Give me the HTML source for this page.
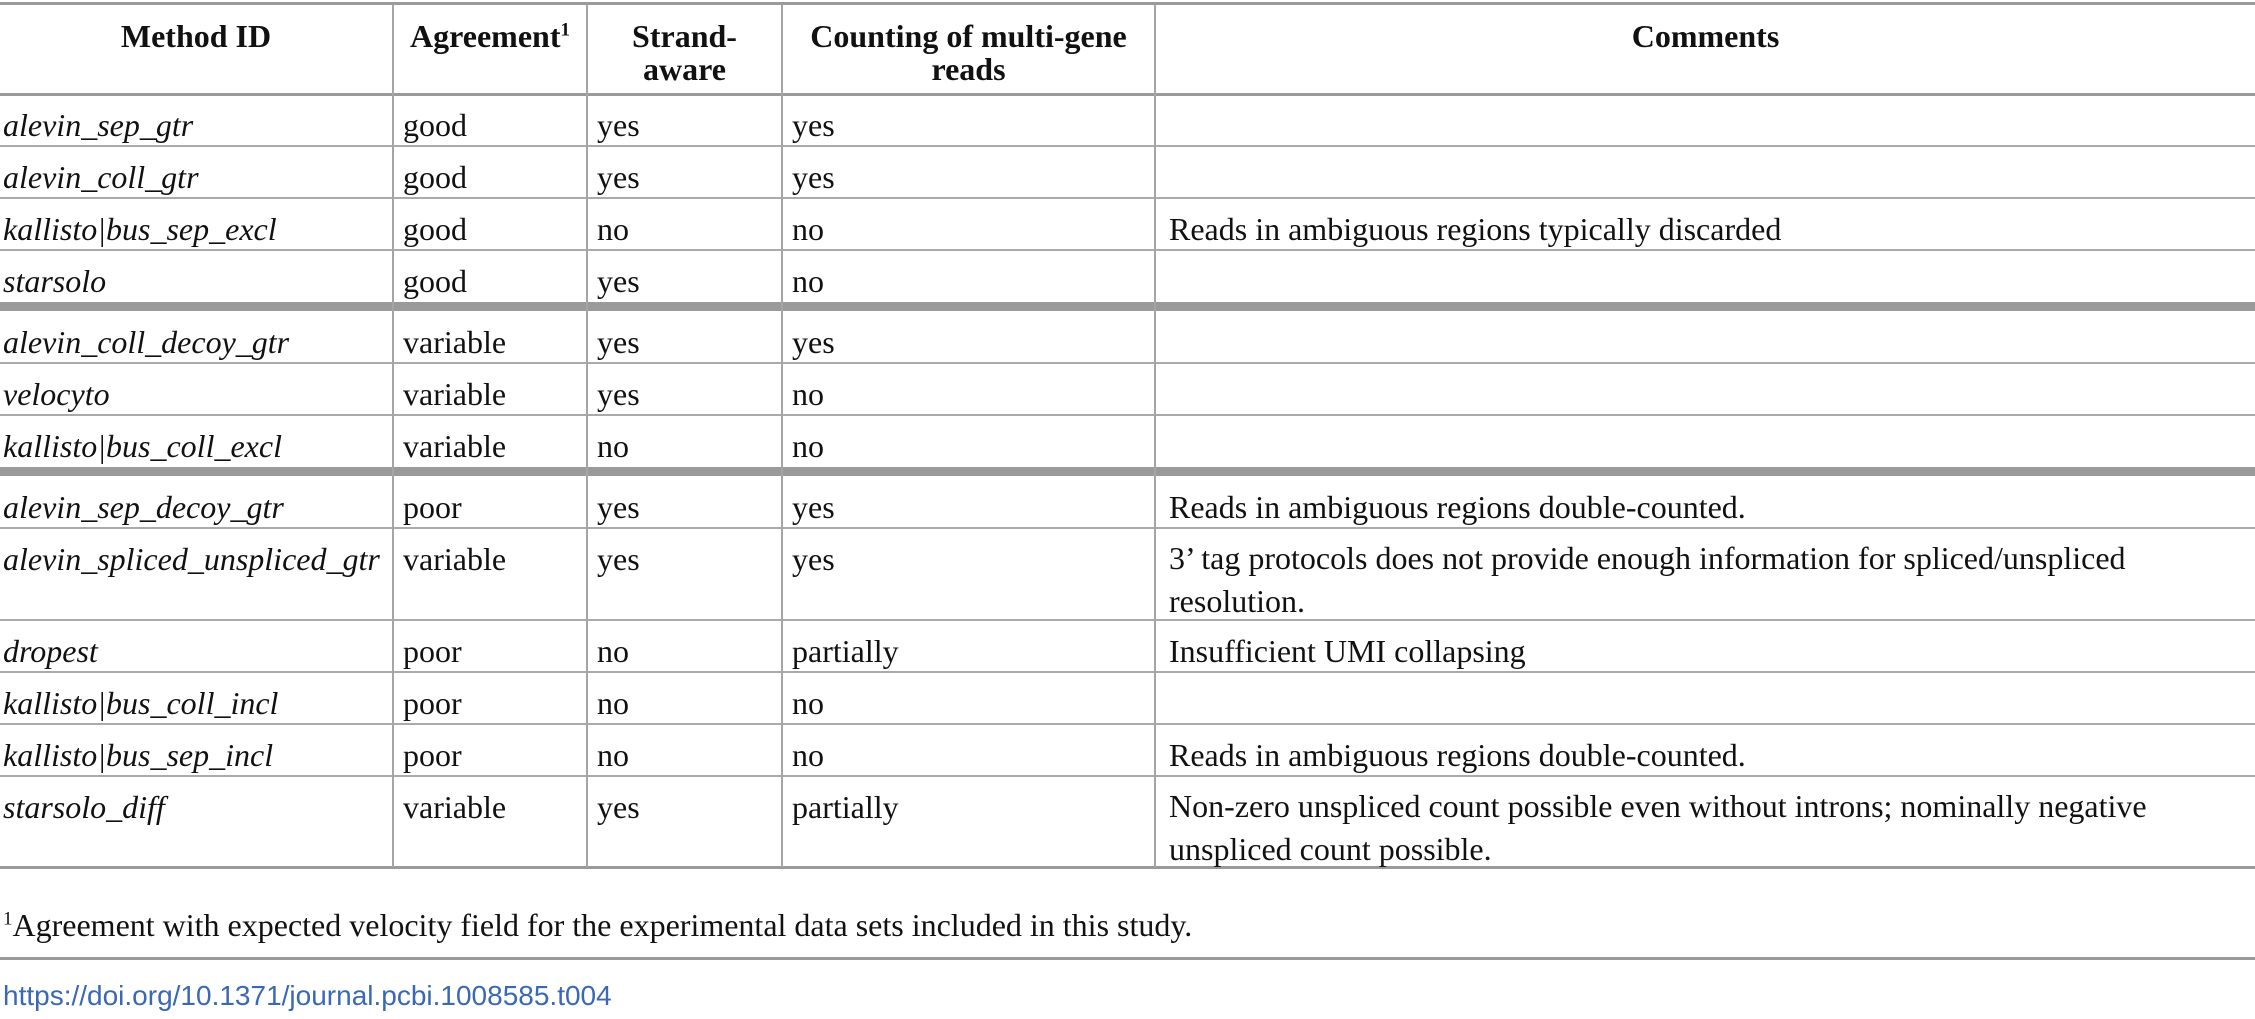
<!DOCTYPE html>
<html><head><meta charset="utf-8"><style>
body{margin:0;width:2255px;height:1019px;background:#fff;position:relative;overflow:hidden;font-family:"Liberation Serif",serif;font-size:32px;color:#111}
.h{position:absolute;left:0;width:2255px;background:#9a9a9a}
.v{position:absolute;width:2px;background:#a5a5a5}
.t{position:absolute;white-space:nowrap;line-height:40px}
.b{font-weight:bold;text-align:center;line-height:33px}
i{font-style:italic}
.d{line-height:43px}
</style></head><body>
<div class="h" style="top:2px;height:3px"></div>
<div class="h" style="top:93px;height:3px"></div>
<div class="h" style="top:145px;height:2px;background:#aaa"></div>
<div class="h" style="top:197px;height:2px;background:#aaa"></div>
<div class="h" style="top:249px;height:2px;background:#aaa"></div>
<div class="h" style="top:302px;height:9px"></div>
<div class="h" style="top:362px;height:2px;background:#aaa"></div>
<div class="h" style="top:414px;height:2px;background:#aaa"></div>
<div class="h" style="top:467px;height:9px"></div>
<div class="h" style="top:527px;height:2px;background:#aaa"></div>
<div class="h" style="top:619px;height:2px;background:#aaa"></div>
<div class="h" style="top:671px;height:2px;background:#aaa"></div>
<div class="h" style="top:723px;height:2px;background:#aaa"></div>
<div class="h" style="top:775px;height:2px;background:#aaa"></div>
<div class="h" style="top:866px;height:3px"></div>
<div class="h" style="top:957px;height:3px"></div>

<div class="v" style="left:392px;top:5px;height:862px"></div>
<div class="v" style="left:586px;top:5px;height:862px"></div>
<div class="v" style="left:781px;top:5px;height:862px"></div>
<div class="v" style="left:1154px;top:5px;height:862px"></div>

<div class="t b" style="left:0;width:392px;top:20px">Method ID</div>
<div class="t b" style="left:394px;width:192px;top:20px">Agreement<sup style="font-size:19px;line-height:0">1</sup></div>
<div class="t b" style="left:588px;width:193px;top:20px">Strand-<br>aware</div>
<div class="t b" style="left:783px;width:371px;top:20px">Counting of multi-gene<br>reads</div>
<div class="t b" style="left:1156px;width:1099px;top:20px">Comments</div>

<div class="t" style="left:3px;top:105px"><i>alevin_sep_gtr</i></div>
<div class="t" style="left:403px;top:105px">good</div><div class="t" style="left:597px;top:105px">yes</div><div class="t" style="left:792px;top:105px">yes</div>

<div class="t" style="left:3px;top:157px"><i>alevin_coll_gtr</i></div>
<div class="t" style="left:403px;top:157px">good</div><div class="t" style="left:597px;top:157px">yes</div><div class="t" style="left:792px;top:157px">yes</div>

<div class="t" style="left:3px;top:209px"><i>kallisto|bus_sep_excl</i></div>
<div class="t" style="left:403px;top:209px">good</div><div class="t" style="left:597px;top:209px">no</div><div class="t" style="left:792px;top:209px">no</div>
<div class="t" style="left:1169px;top:209px">Reads in ambiguous regions typically discarded</div>

<div class="t" style="left:3px;top:261px"><i>starsolo</i></div>
<div class="t" style="left:403px;top:261px">good</div><div class="t" style="left:597px;top:261px">yes</div><div class="t" style="left:792px;top:261px">no</div>

<div class="t" style="left:3px;top:322px"><i>alevin_coll_decoy_gtr</i></div>
<div class="t" style="left:403px;top:322px">variable</div><div class="t" style="left:597px;top:322px">yes</div><div class="t" style="left:792px;top:322px">yes</div>

<div class="t" style="left:3px;top:374px"><i>velocyto</i></div>
<div class="t" style="left:403px;top:374px">variable</div><div class="t" style="left:597px;top:374px">yes</div><div class="t" style="left:792px;top:374px">no</div>

<div class="t" style="left:3px;top:426px"><i>kallisto|bus_coll_excl</i></div>
<div class="t" style="left:403px;top:426px">variable</div><div class="t" style="left:597px;top:426px">no</div><div class="t" style="left:792px;top:426px">no</div>

<div class="t" style="left:3px;top:487px"><i>alevin_sep_decoy_gtr</i></div>
<div class="t" style="left:403px;top:487px">poor</div><div class="t" style="left:597px;top:487px">yes</div><div class="t" style="left:792px;top:487px">yes</div>
<div class="t" style="left:1169px;top:487px">Reads in ambiguous regions double-counted.</div>

<div class="t" style="left:3px;top:539px"><i>alevin_spliced_unspliced_gtr</i></div>
<div class="t" style="left:403px;top:539px">variable</div><div class="t" style="left:597px;top:539px">yes</div><div class="t" style="left:792px;top:539px">yes</div>
<div class="t d" style="left:1169px;top:537px">3’ tag protocols does not provide enough information for spliced/unspliced<br>resolution.</div>

<div class="t" style="left:3px;top:631px"><i>dropest</i></div>
<div class="t" style="left:403px;top:631px">poor</div><div class="t" style="left:597px;top:631px">no</div><div class="t" style="left:792px;top:631px">partially</div>
<div class="t" style="left:1169px;top:631px">Insufficient UMI collapsing</div>

<div class="t" style="left:3px;top:683px"><i>kallisto|bus_coll_incl</i></div>
<div class="t" style="left:403px;top:683px">poor</div><div class="t" style="left:597px;top:683px">no</div><div class="t" style="left:792px;top:683px">no</div>

<div class="t" style="left:3px;top:735px"><i>kallisto|bus_sep_incl</i></div>
<div class="t" style="left:403px;top:735px">poor</div><div class="t" style="left:597px;top:735px">no</div><div class="t" style="left:792px;top:735px">no</div>
<div class="t" style="left:1169px;top:735px">Reads in ambiguous regions double-counted.</div>

<div class="t" style="left:3px;top:787px"><i>starsolo_diff</i></div>
<div class="t" style="left:403px;top:787px">variable</div><div class="t" style="left:597px;top:787px">yes</div><div class="t" style="left:792px;top:787px">partially</div>
<div class="t d" style="left:1169px;top:785px">Non-zero unspliced count possible even without introns; nominally negative<br>unspliced count possible.</div>

<div class="t" style="left:3px;top:905px"><sup style="font-size:19px;line-height:0">1</sup>Agreement with expected velocity field for the experimental data sets included in this study.</div>
<div class="t" style="left:3px;top:976px;font-family:'Liberation Sans',sans-serif;font-size:28px;color:#3a68b4">https://doi.org/10.1371/journal.pcbi.1008585.t004</div>
</body></html>
